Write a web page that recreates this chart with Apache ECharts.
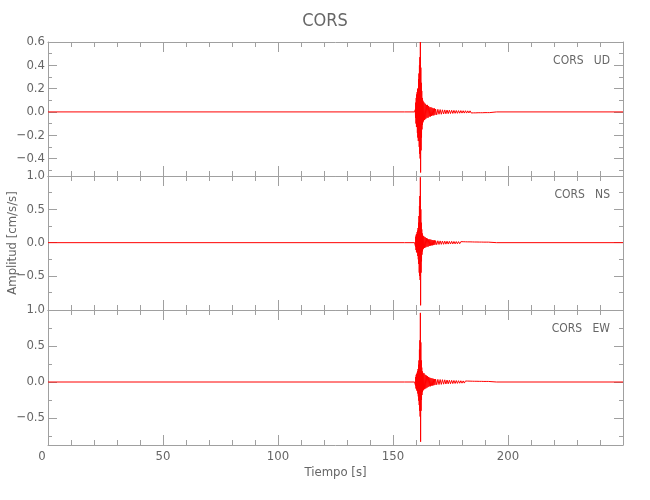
<!DOCTYPE html>
<html><head><meta charset="utf-8">
<script src="https://cdn.jsdelivr.net/npm/echarts@6/dist/echarts.min.js"></script>
<style>html,body{margin:0;padding:0;background:#fff}#c{width:650px;height:500px}</style>
</head><body><div id="c"></div>
<script>
// ---- data ----
const timeSec = [0,20,40,60,80,100,120,140,155,159.4,
 159.7,159.8,159.9,160.0,160.1,160.2,160.3,160.4,160.5,160.6,160.7,160.8,160.9,161.0,161.1,161.2,161.3,161.4,161.5,161.6,161.7,161.8,161.9,162.0,162.1,162.2,162.3,162.4,162.5,162.6,162.7,162.8,162.9,163.0,163.1,163.2,
 163.5,163.75,164,164.25,164.5,164.75,165,165.25,165.5,165.75,166,166.25,166.5,166.75,167,167.25,167.5,167.75,168,168.25,
 168.5,169,169.5,170,170.5,171,171.5,172,172.5,173,173.5,174,174.5,175,175.5,176,176.5,177,177.5,178,178.5,179,179.5,180,180.5,181,181.5,182,182.5,183,183.5,184,184.5,185,185.5,186,186.5,187,187.5,188,188.5,189,189.5,190,190.5,191,191.5,192,
 195,200,210,220,230,240,250];
const udAmp = [0,0,0,0,0,0,0,0,0,0,
 0.02,-0.05,0.08,-0.10,0.12,-0.13,0.15,-0.12,0.17,-0.18,0.20,-0.22,0.18,-0.25,0.28,-0.24,0.33,-0.30,0.40,-0.36,0.47,-0.40,0.60,-0.52,0.38,-0.33,0.25,-0.22,0.18,-0.15,0.12,-0.11,0.10,-0.09,0.09,-0.08,
 0.08,-0.07,0.07,-0.06,0.06,-0.05,0.06,-0.05,0.05,-0.04,0.04,-0.04,0.04,-0.035,0.035,-0.03,0.03,-0.03,0.03,-0.025,
 0.025,-0.025,0.022,-0.02,0.02,-0.02,0.018,-0.018,0.017,-0.016,0.016,-0.015,0.015,-0.014,0.014,-0.013,0.013,-0.012,0.012,-0.012,0.011,-0.011,0.011,-0.01,0.01,-0.01,0.01,-0.01,0.009,-0.009,0.009,-0.009,0.008,-0.008,0.008,-0.008,0.008,-0.007,0.007,-0.007,0.007,-0.007,0.006,-0.006,0.006,-0.006,0.006,-0.006,
 0,0,0,0,0,0,0];
const nsAmp = [0,0,0,0,0,0,0,0,0,0,
 0.03,-0.06,0.09,-0.11,0.12,-0.14,0.13,-0.15,0.16,-0.14,0.18,-0.2,0.22,-0.25,0.3,-0.32,0.4,-0.45,0.55,-0.5,0.7,-0.56,0.98,-0.94,0.5,-0.45,0.3,-0.28,0.2,-0.18,0.14,-0.13,0.11,-0.1,0.1,-0.09,
 0.09,-0.08,0.08,-0.07,0.07,-0.06,0.06,-0.06,0.05,-0.05,0.05,-0.045,0.045,-0.04,0.04,-0.04,0.035,-0.035,0.035,-0.03,
 0.03,-0.03,0.028,-0.027,0.026,-0.025,0.025,-0.024,0.023,-0.022,0.022,-0.021,0.02,-0.02,0.02,-0.019,0.018,-0.018,0.017,-0.017,0.016,-0.016,0.015,-0.015,0.014,-0.014,0.013,-0.013,0.012,-0.012,0.012,-0.011,0.011,-0.011,0.01,-0.01,0.01,-0.01,0.009,-0.009,0.009,-0.009,0.008,-0.008,0.008,-0.008,0.008,-0.008,
 0,0,0,0,0,0,0];
const ewAmp = [0,0,0,0,0,0,0,0,0,0,
 0.02,-0.05,0.07,-0.09,0.1,-0.1,0.11,-0.12,0.13,-0.12,0.15,-0.16,0.18,-0.2,0.24,-0.26,0.3,-0.32,0.45,-0.4,0.58,-0.48,0.96,-0.83,0.55,-0.4,0.3,-0.25,0.2,-0.18,0.15,-0.14,0.13,-0.12,0.12,-0.11,
 0.12,-0.1,0.1,-0.09,0.09,-0.08,0.08,-0.07,0.07,-0.06,0.06,-0.06,0.055,-0.05,0.05,-0.05,0.045,-0.045,0.04,-0.04,
 0.04,-0.038,0.036,-0.035,0.034,-0.033,0.032,-0.03,0.03,-0.028,0.027,-0.026,0.025,-0.024,0.023,-0.022,0.021,-0.02,0.02,-0.019,0.018,-0.017,0.017,-0.016,0.015,-0.015,0.014,-0.013,0.013,-0.012,0.012,-0.011,0.011,-0.011,0.01,-0.01,0.01,-0.01,0.009,-0.009,0.009,-0.009,0.008,-0.008,0.008,-0.008,0.008,-0.008,
 0,0,0,0,0,0,0];
const xTicks = [0,50,100,150,200];
const xMinor = [10,20,30,40,60,70,80,90,110,120,130,140,160,170,180,190,210,220,230,240];
const udTicks = [-0.4,-0.2,0,0.2,0.4,0.6];
const udMinor = [-0.5,-0.3,-0.1,0.1,0.3,0.5];
const nsTicks = [-0.5,0,0.5,1.0];
const nsMinor = [-0.75,-0.25,0.25,0.75];
const ewTicks = [-0.5,0,0.5,1.0];
const ewMinor = [-0.75,-0.25,0.25,0.75];
const stationName = 'CORS';
const componentNames = ['UD','NS','EW'];

// ---- layout / style ----
const FONT = '"Liberation Sans Narrow","DejaVu Sans Condensed",sans-serif';
const AX = '#a0a0a0', TX = '#666666';
const panels = [
  {amp: udAmp, min:-0.55, max:0.6, major:udTicks, minor:udMinor, top:42, height:134},
  {amp: nsAmp, min:-1.01, max:1.0, major:nsTicks, minor:nsMinor, top:176, height:134},
  {amp: ewAmp, min:-0.875, max:1.0, major:ewTicks, minor:ewMinor, top:310, height:135}
];
const fmtY = v => (v < 0 ? '\u2212' : '') + Math.abs(v).toFixed(1);
const fmtX = v => v === 0 ? '{z|0}' : String(v);

const grid = [], xAxis = [], yAxis = [], series = [], graphic = [];
panels.forEach((p, g) => {
  grid.push({left:48, width:575, top:p.top, height:p.height});
  const last = g === panels.length - 1;
  const xb = {type:'value', gridIndex:g, min:0, max:250, splitLine:{show:false},
    axisLine:{show:false,onZero:false}, axisLabel:{show:false}};
  const line = {show:true,onZero:false,lineStyle:{color:AX,width:1}};
  xAxis.push(
    Object.assign({}, xb, {position:'bottom', axisLine:line,
      axisTick:{show:true,inside:true,length:10,customValues:xTicks,lineStyle:{color:AX}},
      axisLabel:{show:last, customValues:xTicks, formatter:fmtX, color:TX, fontFamily:FONT, fontSize:13, margin:5,
        rich:{z:{padding:[0,12,0,0], color:TX, fontFamily:FONT, fontSize:13}}},
      name: last ? 'Tiempo [s]' : '', nameLocation:'middle', nameGap:21,
      nameTextStyle:{color:TX, fontFamily:FONT, fontSize:13}}),
    Object.assign({}, xb, {position:'bottom', axisTick:{show:true,inside:true,length:5,customValues:xMinor,lineStyle:{color:AX}}}),
    Object.assign({}, xb, {position:'top', axisLine:line,
      axisTick:{show:true,inside:true,length:10,customValues:xTicks,lineStyle:{color:AX}}}),
    Object.assign({}, xb, {position:'top', axisTick:{show:true,inside:true,length:5,customValues:xMinor,lineStyle:{color:AX}}})
  );
  const yb = {type:'value', gridIndex:g, min:p.min, max:p.max, splitLine:{show:false},
    axisLine:{show:false,onZero:false}, axisLabel:{show:false}};
  yAxis.push(
    Object.assign({}, yb, {position:'left', axisLine:line,
      axisTick:{show:true,inside:true,length:9,customValues:p.major,lineStyle:{color:AX}},
      axisLabel:{show:true, hideOverlap:false, customValues:p.major, formatter:fmtY, color:TX, fontFamily:FONT, fontSize:13, margin:3}}),
    Object.assign({}, yb, {position:'left', axisTick:{show:true,inside:true,length:4,customValues:p.minor,lineStyle:{color:AX}}}),
    Object.assign({}, yb, {position:'right', axisLine:line,
      axisTick:{show:true,inside:true,length:9,customValues:p.major,lineStyle:{color:AX}}}),
    Object.assign({}, yb, {position:'right', axisTick:{show:true,inside:true,length:4,customValues:p.minor,lineStyle:{color:AX}}})
  );
  series.push({type:'line', xAxisIndex:4*g, yAxisIndex:4*g, showSymbol:false, symbol:'none',
    clip:false, animation:false, sampling:null, lineStyle:{color:'#ff0000', width:1},
    data: timeSec.map((t, i) => [t, p.amp[i]])});
  graphic.push({type:'text', right:40, top:p.top + 13,
    style:{text: stationName + '   ' + componentNames[g], fill:TX, font:'12px ' + FONT}});
});
graphic.push({type:'text', left:'center', top:12,
  style:{text: stationName, fill:TX, font:'18px ' + FONT}});
graphic.push({type:'text', x:13, y:243, rotation:Math.PI/2, z:-10,
  style:{text:'Amplitud [cm/s/s]', fill:TX, font:'13px ' + FONT, align:'center', verticalAlign:'middle'}});

const chart = echarts.init(document.getElementById('c'), null, {renderer:'canvas'});
chart.setOption({animation:false, backgroundColor:'#ffffff', grid, xAxis, yAxis, series, graphic});
</script>
</body></html>
